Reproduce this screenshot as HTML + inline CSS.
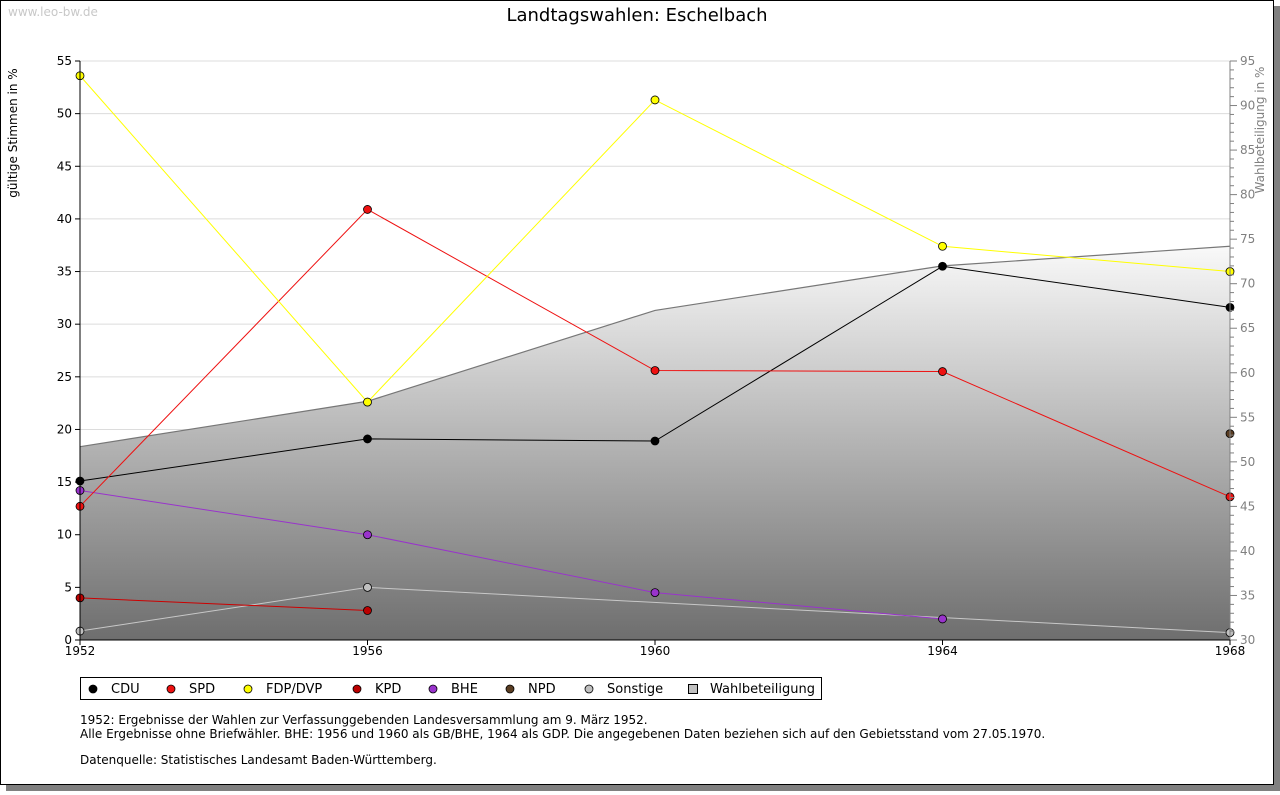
<!DOCTYPE html>
<html><head><meta charset="utf-8"><style>
body{margin:0;background:#fff;width:1280px;height:791px;overflow:hidden;font-family:"DejaVu Sans","Liberation Sans",sans-serif;}
svg text{font-family:"DejaVu Sans","Liberation Sans",sans-serif;}
</style></head><body>
<svg id="chart" width="1280" height="791" xmlns="http://www.w3.org/2000/svg">
<defs><linearGradient id="wg" x1="0" y1="0" x2="0" y2="1"><stop offset="0" stop-color="#f9f9f9"/><stop offset="1" stop-color="#6e6e6e"/></linearGradient></defs>
<rect x="6" y="6" width="1274" height="785" fill="#808080"/>
<rect x="0.5" y="0.5" width="1273" height="784" fill="#fff" stroke="#000"/>
<text x="8" y="16" font-size="12" fill="#c8c8c8">www.leo-bw.de</text>
<text x="637" y="21" font-size="18" text-anchor="middle">Landtagswahlen: Eschelbach</text>
<text transform="translate(17,133) rotate(-90)" font-size="12" text-anchor="middle">gültige Stimmen in %</text>
<text transform="translate(1264,130) rotate(-90)" font-size="12" text-anchor="middle" fill="#808080">Wahlbeteiligung in %</text>
<g id="grid"></g><g id="area"></g><g id="series"></g><g id="axes"></g>
<g>
<rect x="80.5" y="677.5" width="741" height="22" fill="#fff" stroke="#000"/>
<g id="legend"></g></g>
<text font-size="12"><tspan x="80" y="724">1952: Ergebnisse der Wahlen zur Verfassunggebenden Landesversammlung am 9. März 1952.</tspan><tspan x="80" y="738">Alle Ergebnisse ohne Briefwähler. BHE: 1956 und 1960 als GB/BHE, 1964 als GDP. Die angegebenen Daten beziehen sich auf den Gebietsstand vom 27.05.1970.</tspan><tspan x="80" y="764">Datenquelle: Statistisches Landesamt Baden-Württemberg.</tspan></text>
</svg>
<script>
const years=[1952,1956,1960,1964,1968];
const cdu=[15.1,19.1,18.9,35.5,31.6];
const spd=[12.7,40.9,25.6,25.5,13.6];
const fdp=[53.6,22.6,51.3,37.4,35.0];
const kpd=[4.0,2.8,null,null,null];
const bhe=[14.2,10.0,4.5,2.0,null];
const npd=[null,null,null,null,19.6];
const sonst=[0.85,5.0,null,null,0.7];
const turnout=[51.7,56.8,67.0,72.0,74.2];
const leftTicks=[0,5,10,15,20,25,30,35,40,45,50,55];
const rightTicks=[30,35,40,45,50,55,60,65,70,75,80,85,90,95];
const NS="http://www.w3.org/2000/svg";
const X0=80,X1=1230,Y0=640,Y1=61;
const xs=y=>X0+(y-1952)/(1968-1952)*(X1-X0);
const ys=v=>Y0-v/55*(Y0-Y1);
const ys2=v=>Y0-(v-30)/65*(Y0-Y1);
function mk(p,t,a){const e=document.createElementNS(NS,t);for(const k in a)e.setAttribute(k,a[k]);document.getElementById(p).appendChild(e);return e;}
leftTicks.forEach(t=>{if(t>0){const l=mk('grid','line',{x1:X0,x2:X1,y1:ys(t),y2:ys(t),stroke:'#dcdcdc'});

}
const tk=mk('axes','line',{x1:X0-5,x2:X0,y1:ys(t),y2:ys(t),stroke:'#000'});


const tx=mk('axes','text',{x:X0-8,y:ys(t)+4,'font-size':12,'text-anchor':'end'});tx.textContent=t;

});
for(let v=30;v<=95;v++){const tk=mk('axes','line',{x1:X1,x2:X1+(v%5?4:7),y1:ys2(v),y2:ys2(v),stroke:'#808080'});

}
rightTicks.forEach(t=>{const tx=mk('axes','text',{x:X1+10,y:ys2(t)+4,'font-size':12,fill:'#808080'});tx.textContent=t;

});
let pts=years.map((y,i)=>xs(y)+','+ys2(turnout[i])).join(' ');
const ar=mk('area','polygon',{points:X0+','+Y0+' '+pts+' '+X1+','+Y0,fill:'url(#wg)'});


const al=mk('area','polyline',{points:pts,fill:'none',stroke:'#777','stroke-width':1.2});


const ax=mk('axes','line',{x1:X0,x2:X0,y1:Y1,y2:Y0,stroke:'#000'});
const ax2=mk('axes','line',{x1:X1,x2:X1,y1:Y1,y2:Y0,stroke:'#808080'});
const ax3=mk('axes','line',{x1:X0,x2:X1,y1:Y0,y2:Y0,stroke:'#000'});
years.forEach(y=>{const tk=mk('axes','line',{x1:xs(y),x2:xs(y),y1:Y0,y2:Y0+5,stroke:'#000'});


const tx=mk('axes','text',{x:xs(y),y:Y0+15,'font-size':12,'text-anchor':'middle'});tx.textContent=y;

});
const series=[['sonstige',sonst,'#c8c8c8','#c0c0c0'],['bhe',bhe,'#9933cc','#9933cc'],['kpd',kpd,'#cc0000','#bb0000'],['npd',npd,'#6b4a2a','#5a3d22'],['cdu',cdu,'#000','#000'],['spd',spd,'#ee1111','#ee1111'],['fdp',fdp,'#ffff00','#ffff00']];
series.forEach(([n,d,lc,fc])=>{const p=[];d.forEach((v,i)=>{if(v!=null)p.push(xs(years[i])+','+ys(v));});
if(p.length>1){const l=mk('series','polyline',{points:p.join(' '),fill:'none',stroke:lc,'stroke-width':1});

}
d.forEach((v,i)=>{if(v==null)return;const c=mk('series','circle',{cx:xs(years[i]),cy:ys(v),r:4,fill:fc,stroke:'#000','stroke-width':0.8});

});});
const leg=[['CDU','#000',90],['SPD','#ee1111',168],['FDP/DVP','#ffff00',245],['KPD','#bb0000',354],['BHE','#9933cc',430],['NPD','#5a3d22',507],['Sonstige','#c0c0c0',586]];
leg.forEach(([t,c,x])=>{const m=mk('legend','circle',{cx:x+3,cy:689,r:4,fill:c,stroke:'#000','stroke-width':0.8});


const tx=mk('legend','text',{x:x+21,y:693,'font-size':13});tx.textContent=t;

});
const sq=mk('legend','rect',{x:688.5,y:684.5,width:9,height:9,fill:'#c0c0c0',stroke:'#000'});


const lt=mk('legend','text',{x:710,y:693,'font-size':13});lt.textContent='Wahlbeteiligung';


</script>
</body></html>
